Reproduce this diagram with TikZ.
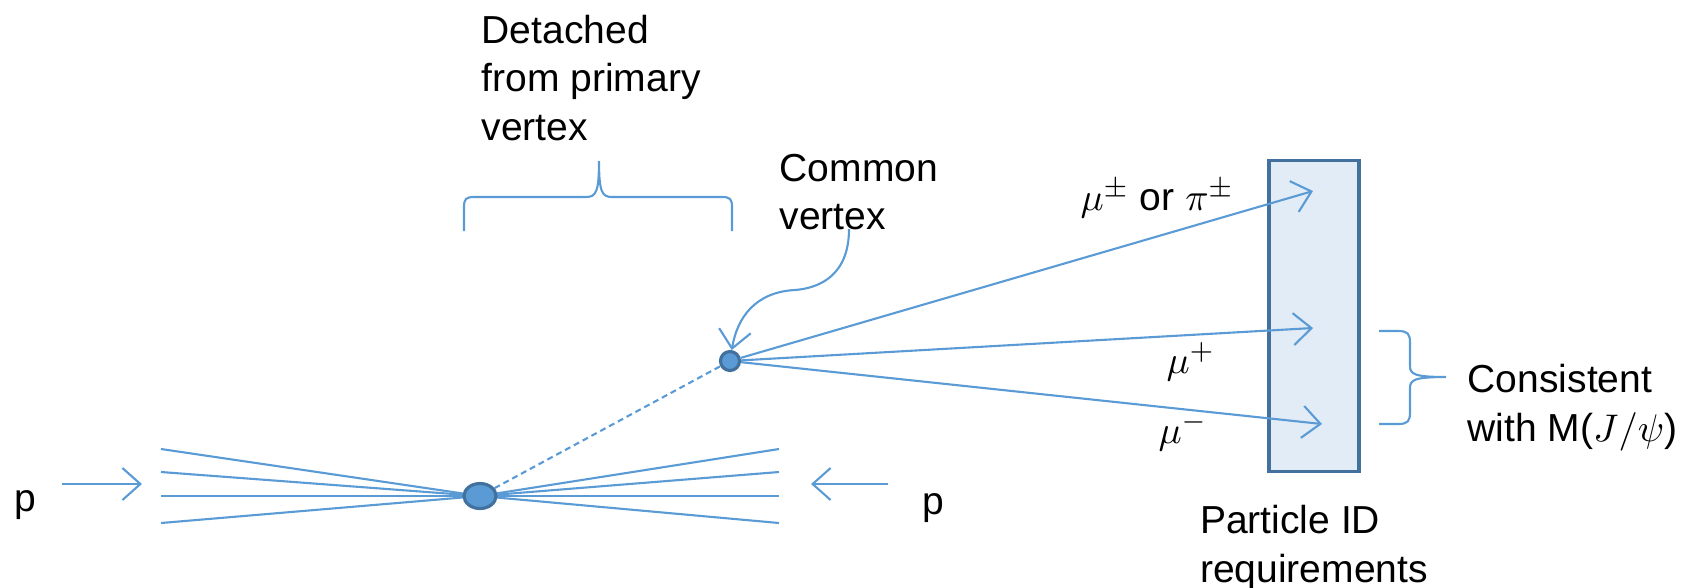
\documentclass[tikz,border=0pt]{standalone}
\usepackage{fontspec}
\setmainfont{Liberation Sans}
\usepackage{xcolor}
\definecolor{trkblue}{RGB}{91,155,213}
\definecolor{vtxedge}{RGB}{65,113,156}
\definecolor{pidfill}{RGB}{226,236,247}
\usetikzlibrary{arrows.meta, shapes.geometric, positioning}
\tikzset{
  lbl/.style={inner sep=0pt, align=left,
    font=\fontsize{11.1pt}{13.9pt}\selectfont},
  track/.style={draw=trkblue, line width=0.6pt},
  trkarr/.style={track, -{Straight Barb[length=1.8mm, width=3.2mm]}},
  pvtx/.style={ellipse, draw=vtxedge, fill=trkblue, line width=0.9pt,
    minimum width=0.32cm, minimum height=0.25cm, inner sep=0pt},
  svtx/.style={circle, draw=vtxedge, fill=trkblue, line width=0.9pt,
    minimum size=0.19cm, inner sep=0pt},
  pidbox/.style={rectangle, draw=vtxedge, fill=pidfill, line width=0.9pt,
    minimum width=0.9cm, minimum height=3.11cm, inner sep=0pt},
  brace/.style={draw=trkblue, line width=0.6pt},
}
\begin{document}
\begin{tikzpicture}[x=0.01cm, y=-0.01cm]
  \useasboundingbox (0,0) rectangle (1685,587);
  % particle ID station
  \node[pidbox] (pid) at (1314,316) {};
  \node[lbl, below=0.31cm of pid] (pidtxt) {Particle ID\\requirements};
  % primary vertex and spray
  \coordinate (pvc) at (480,496);
  \foreach \yy in {449,472,496,523} {
    \draw[track] (pvc) -- (161,\yy);
    \draw[track] (pvc) -- (779,\yy);
  }
  \node[pvtx] (pv) at (pvc) {};
  \node[svtx] (sv) at (730,361) {};
  \draw[track, dash pattern=on 0.06cm off 0.04cm] (pv) -- (sv);
  % beams
  \node[lbl, anchor=west] (pleft) at (14,505) {p};
  \node[lbl, anchor=west] (pright) at (922,508) {p};
  \coordinate (beamL) at (62,484);
  \coordinate (beamLtip) at (142,484);
  \coordinate (beamR) at (888,484);
  \coordinate (beamRtip) at (811,484);
  \draw[trkarr] (beamL) -- (beamLtip);
  \draw[trkarr] (beamR) -- (beamRtip);
  % decay products
  \coordinate (tip1) at (1313,191);
  \coordinate (tip2) at (1313,328);
  \coordinate (tip3) at (1322,424);
  \draw[trkarr] (sv) -- (tip1);
  \draw[trkarr] (sv) -- (tip2);
  \draw[trkarr] (sv) -- (tip3);
  \node[lbl, anchor=west] (lmupi) at (1080,199) {$\mu^{\pm}$ or $\pi^{\pm}$};
  \node[lbl, anchor=west] (lmup) at (1166,362) {$\mu^{+}$};
  \node[lbl, anchor=west] (lmum) at (1158,432) {$\mu^{-}$};
  % detached bracket
  \node[lbl, anchor=west] (detach) at (481,78) {Detached\\from primary\\vertex};
  \draw[brace] (464,231) -- (464,207) .. controls (464,199) and (466,197) .. (474,197)
    -- (586,197) .. controls (596,197) and (599,192) .. (599,161)
    .. controls (599,192) and (602,197) .. (612,197) -- (722,197)
    .. controls (730,197) and (732,199) .. (732,207) -- (732,231);
  % common vertex pointer
  \node[lbl, anchor=west] (common) at (779,192) {Common\\vertex};
  \coordinate (cfoot) at (849,229);
  \draw[trkarr] (cfoot) .. controls (849,275) and (820,288) .. (795,290)
    .. controls (755,292) and (737,318) .. (sv);
  % mass brace
  \draw[brace] (1379,331) -- (1398,331) .. controls (1408,331) and (1410,334) .. (1410,343)
    -- (1410,366) .. controls (1410,374) and (1414,377) .. (1446,377)
    .. controls (1414,377) and (1410,380) .. (1410,388) -- (1410,412)
    .. controls (1410,421) and (1408,424) .. (1398,424) -- (1379,424);
  \node[lbl, anchor=west] (mass) at (1467,408) {Consistent\\with M($J/\psi$)};
\end{tikzpicture}
\end{document}
